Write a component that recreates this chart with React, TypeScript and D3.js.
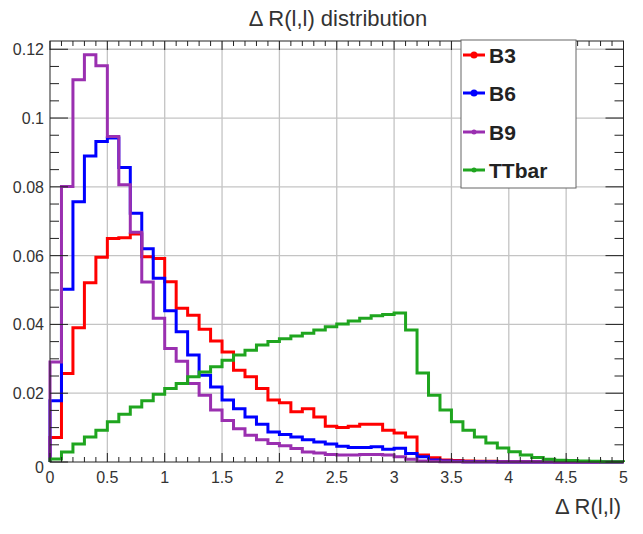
import React from "react";
import * as d3 from "d3";

const W = 643;
const H = 534;

const binEdges = d3.range(0, 5.0001, 0.1).map((v) => +v.toFixed(2));

const seriesNames = ["B3", "B6", "B9", "TTbar"];
const seriesColors = ["#ff0000", "#0000ff", "#9a2fb0", "#1fa51f"];

const b3 = [
  0.0071, 0.0257, 0.039, 0.0521, 0.0595, 0.065, 0.0652, 0.0663, 0.0597, 0.0592,
  0.0524, 0.0447, 0.0427, 0.0386, 0.0352, 0.032, 0.0267, 0.0248, 0.0214, 0.018,
  0.0172, 0.0146, 0.0155, 0.0131, 0.0104, 0.01, 0.0104, 0.011, 0.011, 0.0092,
  0.0084, 0.0073, 0.002, 0.0012, 0.0006, 0.0004, 0.0003, 0.0002, 0.0002, 0.0001,
  0.0001, 0.0001, 0.0001, 0.0001, 0, 0, 0, 0, 0, 0,
];
const b6 = [
  0.0178, 0.0502, 0.0757, 0.089, 0.0932, 0.0942, 0.0856, 0.0723, 0.062, 0.0534,
  0.044, 0.0379, 0.0311, 0.0252, 0.0218, 0.018, 0.0155, 0.0131, 0.011, 0.0087,
  0.008, 0.0073, 0.0065, 0.0058, 0.0052, 0.0046, 0.0042, 0.0042, 0.0044, 0.0037,
  0.004, 0.0025, 0.0015, 0.0006, 0.0003, 0.0002, 0.0001, 0.0001, 0.0001, 0,
  0, 0, 0, 0, 0, 0, 0, 0, 0, 0,
];
const b9 = [
  0.0291, 0.0801, 0.1111, 0.1184, 0.1152, 0.0946, 0.0806, 0.0668, 0.0523, 0.0418,
  0.033, 0.0293, 0.0228, 0.0194, 0.0151, 0.0121, 0.0097, 0.0078, 0.0065, 0.0054,
  0.0047, 0.0039, 0.0029, 0.0026, 0.0022, 0.002, 0.002, 0.0022, 0.0022, 0.002,
  0.0015, 0.0008, 0.0003, 0.0002, 0.0001, 0.0001, 0, 0, 0, 0,
  0, 0, 0, 0, 0, 0, 0, 0, 0, 0,
];
const ttbar = [
  0.0009, 0.0029, 0.0052, 0.0073, 0.0092, 0.0117, 0.0139, 0.016, 0.0178, 0.0197,
  0.0214, 0.0228, 0.0248, 0.0262, 0.0277, 0.0296, 0.0311, 0.0325, 0.034, 0.035,
  0.0358, 0.0366, 0.0374, 0.0384, 0.0393, 0.0401, 0.041, 0.0418, 0.0425, 0.0429,
  0.0433, 0.0384, 0.0259, 0.0194, 0.0151, 0.0117, 0.0092, 0.0073, 0.0055, 0.0041,
  0.003, 0.002, 0.0013, 0.0008, 0.0005, 0.0004, 0.0003, 0.0002, 0.0001, 0.0001,
];
const seriesValues = [b3, b6, b9, ttbar];

const xTickValues = [0, 0.5, 1, 1.5, 2, 2.5, 3, 3.5, 4, 4.5, 5];
const xTickLabels = ["0", "0.5", "1", "1.5", "2", "2.5", "3", "3.5", "4", "4.5", "5"];
const yTickValues = [0, 0.02, 0.04, 0.06, 0.08, 0.1, 0.12];
const yTickLabels = ["0", "0.02", "0.04", "0.06", "0.08", "0.1", "0.12"];

const titleText = "\u0394 R(l,l) distribution";
const xAxisTitle = "\u0394 R(l,l)";

const FONT = "'Liberation Sans', Arial, Helvetica, sans-serif";

export default function App() {
  const frame = { left: 50, right: 623.5, top: 41, bottom: 462 };
  const x = d3.scaleLinear().domain([0, 5]).range([frame.left, frame.right]);
  const y = d3.scaleLinear().domain([0, 0.1224]).range([frame.bottom, frame.top]);

  const line = d3.line<[number, number]>();

  const histPath = (vals: number[]) => {
    const pts: [number, number][] = [[x(binEdges[0]), y(0)]];
    vals.forEach((v, i) => {
      pts.push([x(binEdges[i]), y(v)]);
      pts.push([x(binEdges[i + 1]), y(v)]);
    });
    pts.push([x(binEdges[binEdges.length - 1]), y(0)]);
    return line(pts) || "";
  };

  const xMinor = d3.range(0, 5.0001, 0.1).map((v) => +v.toFixed(2));
  const yMinor = d3.range(0, 0.1224, 0.005).map((v) => +v.toFixed(4));

  const legend = { x0: 461, x1: 576, y0: 40, y1: 188 };
  const legendRows = [55, 93, 132, 170];

  return (
    <svg
      width={W}
      height={H}
      style={{ position: "absolute", left: 0, top: 0, background: "#fff" }}
      fontFamily={FONT}
    >
      <rect x={0} y={0} width={W} height={H} fill="#fff" />
      {/* grid */}
      {xTickValues.slice(1, -1).map((v) => (
        <line key={"gx" + v} x1={x(v)} x2={x(v)} y1={frame.top} y2={frame.bottom}
          stroke="#c4c4c4" strokeWidth={1.3} />
      ))}
      {yTickValues.slice(1).map((v) => (
        <line key={"gy" + v} x1={frame.left} x2={frame.right} y1={y(v)} y2={y(v)}
          stroke="#c4c4c4" strokeWidth={1.3} />
      ))}

      {/* histograms */}
      {seriesValues.map((vals, i) => (
        <path key={seriesNames[i]} d={histPath(vals)} fill="none"
          stroke={seriesColors[i]} strokeWidth={3} strokeLinejoin="miter" />
      ))}

      {/* ticks */}
      {xMinor.map((v, i) => {
        const major = i % 5 === 0;
        const len = major ? 9 : 5;
        return (
          <g key={"xt" + i}>
            <line x1={x(v)} x2={x(v)} y1={frame.bottom} y2={frame.bottom - len} stroke="#222" strokeWidth={1} />
            <line x1={x(v)} x2={x(v)} y1={frame.top} y2={frame.top + len} stroke="#222" strokeWidth={1} />
          </g>
        );
      })}
      {yMinor.map((v, i) => {
        const major = i % 4 === 0;
        const len = major ? 18 : 9;
        return (
          <g key={"yt" + i}>
            <line x1={frame.left} x2={frame.left + len} y1={y(v)} y2={y(v)} stroke="#222" strokeWidth={1} />
            <line x1={frame.right} x2={frame.right - len} y1={y(v)} y2={y(v)} stroke="#222" strokeWidth={1} />
          </g>
        );
      })}

      {/* frame */}
      <rect x={frame.left} y={frame.top} width={frame.right - frame.left}
        height={frame.bottom - frame.top} fill="none" stroke="#222" strokeWidth={1} />

      {/* tick labels */}
      {xTickValues.map((v, i) => (
        <text key={"xl" + v} x={x(v)} y={483} textAnchor="middle" fontSize={16} fill="#333">
          {xTickLabels[i]}
        </text>
      ))}
      {yTickValues.map((v, i) => (
        <text key={"yl" + v} x={44} y={v === 0 ? y(v) + 11 : y(v) + 6} textAnchor="end"
          fontSize={16} fill="#333">
          {yTickLabels[i]}
        </text>
      ))}

      {/* title */}
      <text x={338} y={26} textAnchor="middle" fontSize={22} fill="#333">{titleText}</text>
      <text x={621} y={514} textAnchor="end" fontSize={22} fill="#333">{xAxisTitle}</text>

      {/* legend */}
      <rect x={legend.x0} y={legend.y0} width={legend.x1 - legend.x0}
        height={legend.y1 - legend.y0} fill="#fff" stroke="#666" strokeWidth={1} />
      {seriesNames.map((n, i) => (
        <g key={"lg" + n}>
          <line x1={463} x2={485} y1={legendRows[i]} y2={legendRows[i]}
            stroke={seriesColors[i]} strokeWidth={3} />
          <circle cx={474} cy={legendRows[i]} r={i < 2 ? 3.5 : 2.5} fill={seriesColors[i]} />
          <text x={489} y={legendRows[i] + 7.5} fontSize={21} fontWeight="bold" fill="#222">
            {n}
          </text>
        </g>
      ))}
    </svg>
  );
}
